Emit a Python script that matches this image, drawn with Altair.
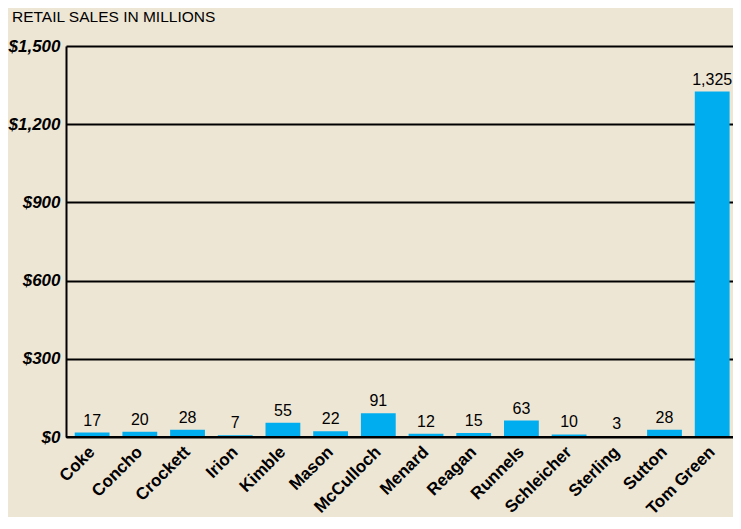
import altair as alt
import pandas as pd

counties = ["Coke", "Concho", "Crockett", "Irion", "Kimble", "Mason", "McCulloch",
            "Menard", "Reagan", "Runnels", "Schleicher", "Sterling", "Sutton", "Tom Green"]
sales = [17, 20, 28, 7, 55, 22, 91, 12, 15, 63, 10, 3, 28, 1325]
y_ticks = [0, 300, 600, 900, 1200, 1500]

df = pd.DataFrame({"county": counties, "sales": sales})

FONT = "Liberation Sans"
BG = "#EEE6D4"
PLOT_W = 667

xscale = alt.Scale(paddingInner=0.27, paddingOuter=0.127, align=0.72)
x = alt.X("county:N", sort=counties, title=None, scale=xscale,
          axis=alt.Axis(labelAngle=-45, labelAlign="right", labelBaseline="middle",
                        labelFont=FONT, labelFontSize=17, labelFontWeight="bold",
                        labelColor="black", labelPadding=12, ticks=False,
                        domain=False, grid=False))
y = alt.Y("sales:Q", title=None,
          scale=alt.Scale(domain=[0, 1500], nice=False),
          axis=alt.Axis(values=y_ticks, labelExpr="'$' + format(datum.value, ',')",
                        labelFont=FONT, labelFontSize=17, labelFontWeight="bold",
                        labelFontStyle="italic", labelColor="black", labelPadding=6,
                        ticks=False, domain=True, domainColor="black", domainWidth=2,
                        grid=True, gridColor="black", gridWidth=1.8, gridOpacity=1))

bars = alt.Chart(df).mark_bar(color="#00AEEF").encode(x=x, y=y)
labels = alt.Chart(df).mark_text(font=FONT, fontSize=16, color="black", dy=-7,
                                 baseline="alphabetic").encode(
    x=alt.X("county:N", sort=counties, scale=xscale), y="sales:Q",
    text=alt.Text("sales:Q", format=","))
base = alt.Chart(df).mark_rule(color="black", strokeWidth=2).encode(
    y=alt.datum(0), x=alt.value(0), x2=alt.value(PLOT_W))

chart = alt.layer(bars, base, labels).properties(
    width=PLOT_W, height=391,
    padding={"left": 58, "top": 38, "right": 0, "bottom": 80},
    autosize=alt.AutoSizeParams(type="none"),
    background=BG,
    title=alt.Title("RETAIL SALES IN MILLIONS", anchor="start", frame="group",
                    dx=-54, offset=12,
                    font=FONT, fontSize=15.5, fontWeight="normal", color="black"),
).configure_view(stroke=None)

chart.save("out.html", embed_options={"renderer": "svg", "actions": False})
